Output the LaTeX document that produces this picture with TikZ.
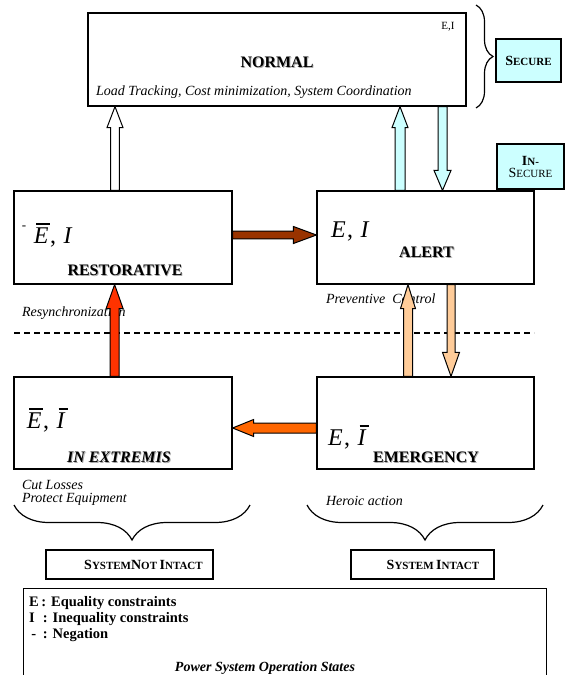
\documentclass[tikz,border=0pt]{standalone}
\usepackage{fontspec}
\setmainfont{Liberation Serif}
\usetikzlibrary{calc,decorations.pathreplacing}

\definecolor{lcyan}{HTML}{CCFFFF}
\definecolor{brownarr}{HTML}{993300}
\definecolor{redarr}{HTML}{FF3300}
\definecolor{orarr}{HTML}{FF6600}
\definecolor{peach}{HTML}{FFCC99}

\newcommand\fsz[1]{\fontsize{#1}{#1}\selectfont}
\newcommand\fsc[2]{{\fontsize{14}{16}\selectfont #1}{\fontsize{11}{12}\selectfont #2}}
% letter with an overline: bar width, bar offset, letter
\newcommand\ovlx[3]{\leavevmode\rlap{\hspace{#2}\rule[0.76em]{#1}{0.055em}}\textit{#3}}
\newcommand\oE{\ovlx{0.58em}{0.1em}{E}}
\newcommand\oI{\ovlx{0.4em}{0.08em}{I}}
\newcommand\sep{\kern1.5pt,\kern1.5pt\ }

% vertical block arrow: fill, tail, tip, shaft half width, head half width, head length
\newcommand\varr[6]{%
  \draw[fill=#1, line width=1pt, line join=miter]
  let \p1=#2, \p2=#3, \n1={sign(\y2-\y1)} in
  (\x2-#4,\y1) -- (\x2-#4,\y2-\n1*#6) -- (\x2-#5,\y2-\n1*#6) -- (\x2,\y2)
  -- (\x2+#5,\y2-\n1*#6) -- (\x2+#4,\y2-\n1*#6) -- (\x2+#4,\y1) -- cycle;}
% horizontal block arrow
\newcommand\harr[6]{%
  \draw[fill=#1, line width=1pt, line join=miter]
  let \p1=#2, \p2=#3, \n1={sign(\x2-\x1)} in
  (\x1,\y2-#4) -- (\x2-\n1*#6,\y2-#4) -- (\x2-\n1*#6,\y2-#5) -- (\x2,\y2)
  -- (\x2-\n1*#6,\y2+#5) -- (\x2-\n1*#6,\y2+#4) -- (\x1,\y2+#4) -- cycle;}
% shadowed label
\newcommand\shlab[4]{%
  \node[txt, text=black!35] (#1s) at ($#2+(0.9,0.9)$) {#3 #4};
  \node[txt] (#1) at #2 {#3 #4};}

\tikzset{
  box/.style={draw, line width=1.2pt, rectangle, inner sep=0pt},
  cbox/.style={box, fill=lcyan},
  txt/.style={inner sep=0pt, outer sep=0pt},
  note/.style={txt, anchor=west, font=\fsz{14}\itshape},
  bigm/.style={txt, anchor=base west, font=\fsz{24}},
  legt/.style={txt, anchor=west, font=\fsz{14.5}\bfseries},
  brc/.style={draw, line width=1.2pt, decorate},
}

\begin{document}
\begin{tikzpicture}[x=1pt,y=-1pt]
\useasboundingbox (0,0) rectangle (565,675);
\clip (0,0) rectangle (565,675);

% state boxes
\node[box, minimum width=378, minimum height=93] (normal) at (277,59.5) {};
\node[box, minimum width=218, minimum height=93] (restorative) at (123,237.5) {};
\node[box, minimum width=217, minimum height=93] (alert) at (425.5,237.5) {};
\node[box, minimum width=218, minimum height=92] (extremis) at (123,423) {};
\node[box, minimum width=217, minimum height=92] (emergency) at (425.5,423) {};

% security boxes
\node[cbox, minimum width=65, minimum height=43] (secure) at (528.5,60.5)
  {\bfseries\fsc{S}{ECURE}};
\node[cbox, minimum width=67, minimum height=45, align=center] (insecure) at (530.5,166.5)
  {\fontsize{14}{16}\selectfont\bfseries\fsc{I}{N-}\\\fsc{S}{ECURE}};

% intact boxes
\node[box, minimum width=167, minimum height=29] (notintact) at (129.5,564.5) {};
\node[txt, font=\bfseries] (notintactt) at (143.5,564.5)
  {\fsc{S}{YSTEM}\fsc{N}{OT} \fsc{I}{NTACT}};
\node[box, minimum width=143, minimum height=29] (intact) at (422.5,564.5) {};
\node[txt, font=\bfseries] (intactt) at (433,564.5)
  {\fsc{S}{YSTEM} \fsc{I}{NTACT}};

% legend box
\node[box, anchor=north west, minimum width=523, minimum height=110] (legend) at (23,588) {};
\node[legt] (lege) at (29,603) {\makebox[12.5pt][l]{E}: Equality constraints};
\node[legt] (legi) at (29,619) {\makebox[14pt][l]{I}: Inequality constraints};
\node[legt] (legn) at (29,635) {\makebox[14pt][l]{\,-}: Negation};
\node[txt, font=\fsz{14}\bfseries\itshape] (title) at (265,668) {Power System Operation States};

% texts in NORMAL
\node[txt, font=\fsz{11}] (normei) at (448,27) {E,I};
\shlab{normallab}{(275,62)}{\fsz{16}\bfseries}{NORMAL}
\node[note] (normnote) at (96,92) {Load Tracking, Cost minimization, System Coordination};

% texts in RESTORATIVE
\node[txt, font=\fsz{13}] (negmark) at (24,228) {-};
\node[bigm] (restm) at (34,243) {\oE\sep\textit{I}};
\shlab{restlab}{(123,270.5)}{\fsz{16}\bfseries}{RESTORATIVE}

% texts in ALERT
\node[bigm] (alertm) at (331,237.5) {\textit{E}\sep\textit{I}};
\shlab{alertlab}{(424.5,252.5)}{\fsz{16}\bfseries}{ALERT}

% texts in IN EXTREMIS
\node[bigm] (extm) at (27,428) {\oE\sep\oI};
\shlab{extlab}{(117,457.5)}{\fsz{16}\bfseries\itshape}{IN EXTREMIS}

% texts in EMERGENCY
\node[bigm] (emm) at (328,445) {\textit{E}\sep\oI};
\shlab{emlab}{(424,457.5)}{\fsz{16}\bfseries}{EMERGENCY}

% side notes
\node[note] (resync) at (22,313.5) {Resynchronization};
\node[note] (prevent) at (326,298.5) {Preventive\ \ Control};
\node[note] (cutloss) at (22,485) {Cut Losses};
\node[note] (protect) at (22,499) {Protect Equipment};
\node[note] (heroic) at (326,501) {Heroic action};

% dashed separator
\coordinate (dashl) at (14,333);
\coordinate (dashr) at (534,333);
\draw[line width=1.3pt, dash pattern=on 6pt off 4pt] (dashl) -- (dashr);

% braces
\draw[brc, decoration={brace, amplitude=17pt}] (476,5) -- (476,108);
\draw[brc, decoration={brace, amplitude=35pt}] (250,505) -- (14,505);
\draw[brc, decoration={brace, amplitude=35pt}] (543,505) -- (307,505);

% block arrows
\varr{white}{(115,0 |- restorative.north)}{(115,0 |- normal.south)}{4.3pt}{8pt}{21pt}
\varr{lcyan}{(400,0 |- alert.north)}{(400,0 |- normal.south)}{5pt}{8pt}{21pt}
\varr{lcyan}{(442.5,0 |- normal.south)}{(442.5,0 |- alert.north)}{4.5pt}{8.5pt}{20pt}
\harr{brownarr}{(restorative.east |- 0,235)}{(alert.west |- 0,235)}{3.8pt}{8.5pt}{23pt}
\varr{redarr}{(114.6,0 |- extremis.north)}{(114.6,0 |- restorative.south)}{4.5pt}{8.5pt}{24pt}
\varr{peach}{(408,0 |- emergency.north)}{(408,0 |- alert.south)}{4.5pt}{7.5pt}{24pt}
\varr{peach}{(451,0 |- alert.south)}{(451,0 |- emergency.north)}{4pt}{8.5pt}{24pt}
\harr{orarr}{(emergency.west |- 0,428)}{(extremis.east |- 0,428)}{5pt}{8.5pt}{21pt}
\end{tikzpicture}
\end{document}
